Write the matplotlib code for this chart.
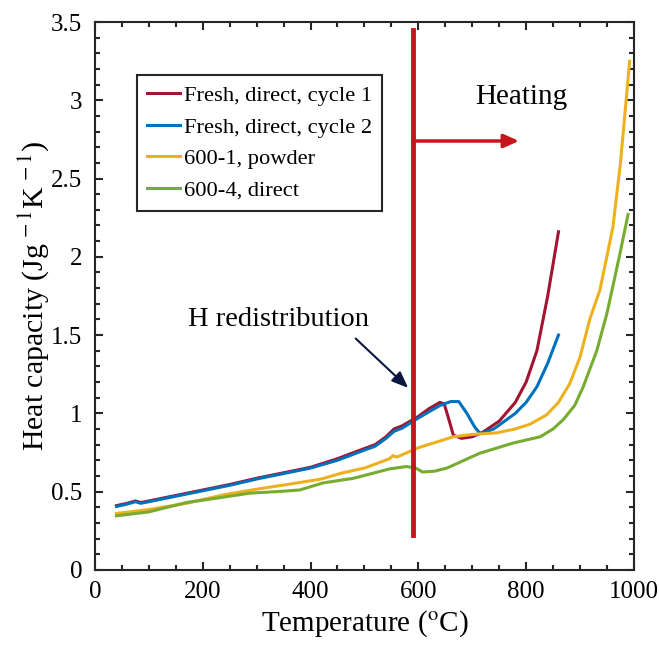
import numpy as np
import matplotlib.pyplot as plt
from matplotlib.ticker import MultipleLocator, FuncFormatter

plt.rcParams['font.family'] = ['Liberation Serif', 'DejaVu Serif']
plt.rcParams['mathtext.fontset'] = 'stix'

# Fresh, direct, cycle 1
t1 = [40, 60, 75, 85, 100, 150, 200, 250, 300, 350, 400, 450, 500, 520, 540, 555, 570, 600, 620, 640, 648,
      655, 665, 680, 700, 720, 750, 780, 800, 820, 840, 860]
c1 = [0.41, 0.425, 0.44, 0.43, 0.44, 0.475, 0.51, 0.545, 0.585, 0.62, 0.655, 0.71, 0.775, 0.80, 0.85, 0.90,
      0.92, 0.98, 1.03, 1.07, 1.06, 0.98, 0.86, 0.84, 0.85, 0.88, 0.95, 1.07, 1.2, 1.4, 1.75, 2.16]
# Fresh, direct, cycle 2
t2 = [40, 60, 75, 85, 100, 150, 200, 250, 300, 350, 400, 450, 500, 520, 540, 555, 570, 600, 620, 640, 660,
      675, 690, 705, 715, 740, 760, 780, 800, 820, 840, 860]
c2 = [0.405, 0.42, 0.435, 0.425, 0.435, 0.47, 0.505, 0.54, 0.58, 0.615, 0.65, 0.70, 0.765, 0.79, 0.84, 0.885,
      0.905, 0.97, 1.01, 1.05, 1.075, 1.075, 1.0, 0.91, 0.87, 0.9, 0.95, 1.0, 1.07, 1.17, 1.32, 1.5]
# 600-1, powder
t3 = [40, 100, 170, 240, 300, 375, 420, 460, 500, 547, 553, 560, 600, 665, 700, 745, 780, 807, 838, 860,
      881, 900, 918, 937, 961, 975, 992]
c3 = [0.36, 0.385, 0.425, 0.48, 0.515, 0.555, 0.58, 0.62, 0.65, 0.71, 0.73, 0.72, 0.78, 0.85, 0.865, 0.875,
      0.9, 0.93, 0.99, 1.07, 1.19, 1.36, 1.6, 1.79, 2.19, 2.6, 3.25]
# 600-4, direct
t4 = [40, 100, 170, 230, 288, 340, 380, 423, 480, 547, 578, 595, 608, 630, 653, 714, 776, 826, 850, 869,
      890, 906, 931, 950, 974, 989]
c4 = [0.345, 0.37, 0.43, 0.46, 0.49, 0.5, 0.51, 0.555, 0.585, 0.645, 0.66, 0.65, 0.625, 0.63, 0.65, 0.745,
      0.81, 0.85, 0.9, 0.96, 1.05, 1.17, 1.40, 1.64, 2.02, 2.27]

fig = plt.figure(figsize=(6.59, 6.68), dpi=100)
ax = fig.add_axes([0.144, 0.147, 0.818, 0.82])

ax.plot(t1, c1, color='#a2142f', lw=2.2, label='Fresh, direct, cycle 1')
ax.plot(t2, c2, color='#0072bd', lw=2.2, label='Fresh, direct, cycle 2')
ax.plot(t3, c3, color='#edb120', lw=2.2, label='600-1, powder')
ax.plot(t4, c4, color='#77ac30', lw=2.2, label='600-4, direct')

# heating marker
ax.plot([590, 590], [0.22, 3.45], color='#c4161c', lw=3.5, zorder=5)
ax.annotate('', xy=(792, 2.74), xytext=(590, 2.74),
            arrowprops=dict(arrowstyle='-|>,head_width=0.4,head_length=0.9', color='#c4161c', lw=2.5))
ax.text(790, 3.02, 'Heating', fontsize=21, ha='center', va='center')

ax.text(340, 1.6, 'H redistribution', fontsize=20.5, ha='center', va='center')
ax.annotate('', xy=(585, 1.15), xytext=(480, 1.49),
            arrowprops=dict(arrowstyle='-|>,head_width=0.4,head_length=1.0', color='#0b1540', lw=1.5))

ax.set_xlim(0, 1000)
ax.set_ylim(0, 3.5)
ax.xaxis.set_major_locator(MultipleLocator(200))
ax.xaxis.set_minor_locator(MultipleLocator(50))
ax.yaxis.set_major_locator(MultipleLocator(0.5))
ax.yaxis.set_minor_locator(MultipleLocator(0.1))
ax.yaxis.set_major_formatter(FuncFormatter(lambda v, p: '%g' % v))
ax.tick_params(which='both', direction='in', top=True, right=True, width=1.5, labelsize=18, color='#262626')
ax.tick_params(which='major', length=6)
ax.tick_params(which='minor', length=3.5)
ax.tick_params(axis='x', pad=8)
ax.tick_params(axis='y', pad=9)
for s in ax.spines.values():
    s.set_linewidth(1.5)
    s.set_color('#262626')

ax.set_xlabel('Temperature ($^{\\mathrm{o}}$C)', fontsize=21, labelpad=4)
ax.set_ylabel('Heat capacity (Jg$^{\\,-1}$K$^{\\,-1}$)', fontsize=21.5, labelpad=0)

leg = ax.legend(loc='upper left', bbox_to_anchor=(0.078, 0.903), fontsize=16.2, handlelength=1.45,
                handletextpad=0.2, labelspacing=0.48, borderpad=0.45, borderaxespad=0, fancybox=False,
                framealpha=1, edgecolor='#262626')
leg.get_frame().set_linewidth(1.5)

fig.savefig('out.png', dpi=100)
